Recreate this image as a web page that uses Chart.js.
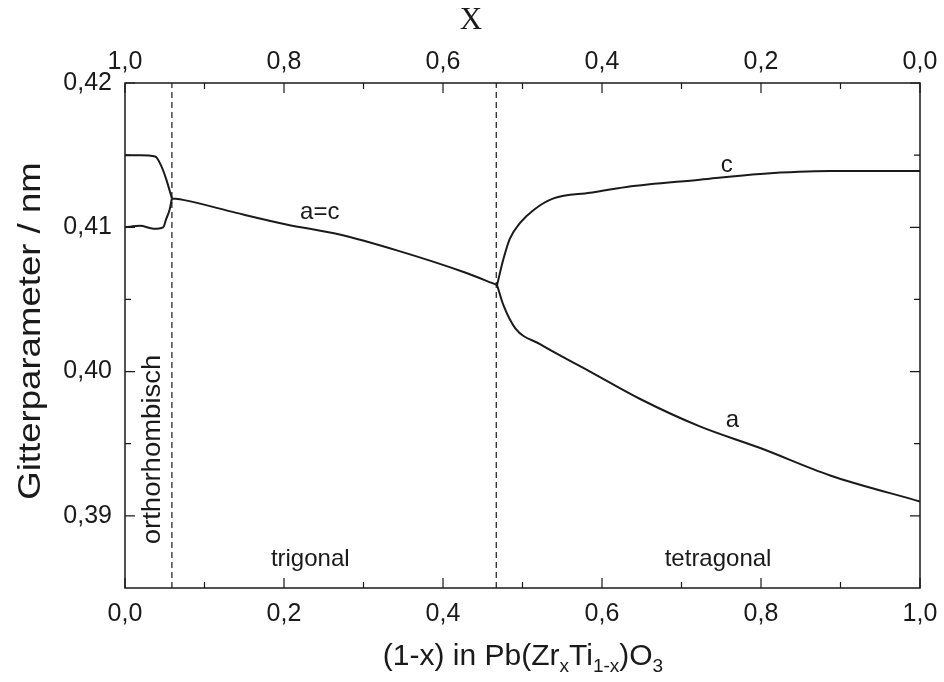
<!DOCTYPE html>
<html>
<head>
<meta charset="utf-8">
<script src="https://cdn.jsdelivr.net/npm/chart.js@4.4.1/dist/chart.umd.min.js"></script>
<style>
  html, body { margin: 0; background: #fff; }
</style>
</head>
<body>
<canvas id="c" width="944" height="682"></canvas>
<script>
// tick values
const xTicks = [0, 0.2, 0.4, 0.6, 0.8, 1.0];
const xMinor = [0.1, 0.3, 0.5, 0.7, 0.9];
const yTicks = [0.39, 0.40, 0.41, 0.42];
const yMinor = [0.395, 0.405, 0.415];
const yMin = 0.385, yMax = 0.42;

// phase boundaries (1-x)
const boundaries = [0.059, 0.467];

// orthorhombic a and c
const orthoUpperX = [0, 0.019, 0.038, 0.046, 0.052, 0.059];
const orthoUpperY = [0.4150, 0.4150, 0.4149, 0.4142, 0.4133, 0.4120];
const orthoLowerX = [0, 0.019, 0.036, 0.048, 0.052, 0.056, 0.059];
const orthoLowerY = [0.4100, 0.4101, 0.4099, 0.4100, 0.4106, 0.4112, 0.4120];

// trigonal a=c
const trigX = [0.059, 0.073, 0.140, 0.203, 0.270, 0.342, 0.426, 0.468];
const trigY = [0.4120, 0.4119, 0.4110, 0.4102, 0.4095, 0.4084, 0.4069, 0.4060];

// tetragonal c
const tetCX = [0.468, 0.476, 0.484, 0.497, 0.514, 0.539, 0.585, 0.631, 0.723, 0.799, 0.887, 1.0];
const tetCY = [0.4060, 0.4078, 0.4092, 0.4103, 0.4112, 0.4120, 0.4124, 0.4128, 0.4133, 0.4137, 0.4139, 0.4139];

// tetragonal a
const tetAX = [0.468, 0.476, 0.491, 0.522, 0.585, 0.648, 0.723, 0.799, 0.887, 1.0];
const tetAY = [0.4060, 0.4046, 0.4030, 0.4019, 0.4000, 0.3981, 0.3962, 0.3947, 0.3928, 0.3910];

const INK = '#1a1a1a';
const FONT = '"Liberation Sans", Arial, sans-serif';

function pts(xs, ys) {
  return xs.map((x, i) => ({ x, y: ys[i] }));
}

function curve(xs, ys) {
  return {
    data: pts(xs, ys),
    borderColor: INK,
    borderWidth: 2,
    pointRadius: 0,
    cubicInterpolationMode: 'monotone'
  };
}

function dashed(b) {
  return {
    data: [{ x: b, y: yMin }, { x: b, y: yMax }],
    borderColor: INK,
    borderWidth: 1.2,
    borderDash: [6, 4],
    pointRadius: 0,
    tension: 0
  };
}

const comma = (v, d) => v.toFixed(d).replace('.', ',');

// inward ticks, frame and texts
const decor = {
  id: 'decor',
  afterDraw(chart) {
    const ctx = chart.ctx;
    const a = chart.chartArea;
    const sx = chart.scales.x, sy = chart.scales.y;
    ctx.save();
    ctx.strokeStyle = INK;
    ctx.lineWidth = 1.5;
    ctx.strokeRect(a.left, a.top, a.right - a.left, a.bottom - a.top);

    function xt(vals, len) {
      vals.forEach(v => {
        const p = sx.getPixelForValue(v);
        ctx.beginPath();
        ctx.moveTo(p, a.bottom); ctx.lineTo(p, a.bottom - len);
        ctx.moveTo(p, a.top); ctx.lineTo(p, a.top + len);
        ctx.stroke();
      });
    }
    function yt(vals, len) {
      vals.forEach(v => {
        const p = sy.getPixelForValue(v);
        ctx.beginPath();
        ctx.moveTo(a.left, p); ctx.lineTo(a.left + len, p);
        ctx.moveTo(a.right, p); ctx.lineTo(a.right - len, p);
        ctx.stroke();
      });
    }
    ctx.lineWidth = 1.2;
    xt(xTicks, 10); xt(xMinor, 6);
    yt(yTicks, 10); yt(yMinor, 6);

    ctx.fillStyle = INK;
    ctx.textAlign = 'center';
    ctx.textBaseline = 'middle';
    const lbl = (t, x, y, size) => {
      ctx.font = size + 'px ' + FONT;
      ctx.fillText(t, sx.getPixelForValue(x), sy.getPixelForValue(y));
    };
    lbl('a=c', 0.245, 0.4110, 24);
    lbl('c', 0.757, 0.4143, 24);
    lbl('a', 0.764, 0.3966, 24);
    lbl('trigonal', 0.233, 0.3870, 24);
    lbl('tetragonal', 0.746, 0.3870, 24);

    ctx.save();
    ctx.translate(sx.getPixelForValue(0.035), sy.getPixelForValue(0.3946));
    ctx.rotate(-Math.PI / 2);
    ctx.scale(1.1, 1);
    ctx.font = '25px ' + FONT;
    ctx.fillText('orthorhombisch', 0, 0);
    ctx.restore();

    // y title
    ctx.save();
    ctx.translate(31, 331);
    ctx.rotate(-Math.PI / 2);
    ctx.scale(1.18, 1);
    ctx.font = '31px ' + FONT;
    ctx.fillText('Gitterparameter / nm', 0, 0);
    ctx.restore();

    // top title
    ctx.font = '31px "Liberation Serif", "Times New Roman", serif';
    ctx.fillText('X', 471, 21);

    // bottom title with subscripts
    const parts = [
      ['(1-x) in Pb(Zr', 0], ['x', 1], ['Ti', 0], ['1-x', 1], [')O', 0], ['3', 1]
    ];
    const big = 30, small = 19;
    ctx.textAlign = 'left';
    ctx.textBaseline = 'alphabetic';
    let w = 0;
    parts.forEach(([t, s]) => {
      ctx.font = (s ? small : big) + 'px ' + FONT;
      w += ctx.measureText(t).width;
    });
    let x = 523 - w / 2;
    const base = 665;
    parts.forEach(([t, s]) => {
      ctx.font = (s ? small : big) + 'px ' + FONT;
      ctx.fillText(t, x, s ? base + 7 : base);
      x += ctx.measureText(t).width;
    });
    ctx.restore();
  }
};

const tickFont = { family: FONT, size: 25 };

function fitX(h) {
  return s => { s.height = h; s.paddingLeft = 0; s.paddingRight = 0; };
}

new Chart(document.getElementById('c'), {
  type: 'line',
  data: {
    datasets: [
      curve(orthoUpperX, orthoUpperY),
      curve(orthoLowerX, orthoLowerY),
      curve(trigX, trigY),
      curve(tetCX, tetCY),
      curve(tetAX, tetAY),
      dashed(boundaries[0]),
      dashed(boundaries[1])
    ]
  },
  options: {
    responsive: false,
    animation: false,
    layout: { padding: 0 },
    plugins: { legend: { display: false }, tooltip: { enabled: false } },
    scales: {
      x: {
        type: 'linear', position: 'bottom', min: 0, max: 1,
        afterBuildTicks: s => { s.ticks = xTicks.map(v => ({ value: v })); },
        afterFit: fitX(94),
        grid: { display: false, drawTicks: false }, border: { display: false },
        ticks: { padding: 11, autoSkip: false, maxRotation: 0, color: INK, font: tickFont,
                 callback: v => comma(v, 1) }
      },
      xTop: {
        type: 'linear', position: 'top', min: 0, max: 1, reverse: true,
        afterBuildTicks: s => { s.ticks = xTicks.map(v => ({ value: v })); },
        afterFit: fitX(83),
        grid: { display: false, drawTicks: false }, border: { display: false },
        ticks: { padding: 6, autoSkip: false, maxRotation: 0, color: INK, font: tickFont,
                 callback: v => comma(v, 1) }
      },
      y: {
        type: 'linear', position: 'left', min: yMin, max: yMax,
        afterBuildTicks: s => { s.ticks = yTicks.map(v => ({ value: v })); },
        afterFit: s => { s.width = 125; },
        grid: { display: false, drawTicks: false }, border: { display: false },
        ticks: { padding: 13, autoSkip: false, color: INK, font: tickFont,
                 callback: v => comma(v, 2) }
      },
      yRight: {
        type: 'linear', position: 'right', min: yMin, max: yMax,
        afterFit: s => { s.width = 24; },
        grid: { display: false, drawTicks: false }, border: { display: false },
        ticks: { display: false }
      }
    }
  },
  plugins: [decor]
});
</script>
</body>
</html>
